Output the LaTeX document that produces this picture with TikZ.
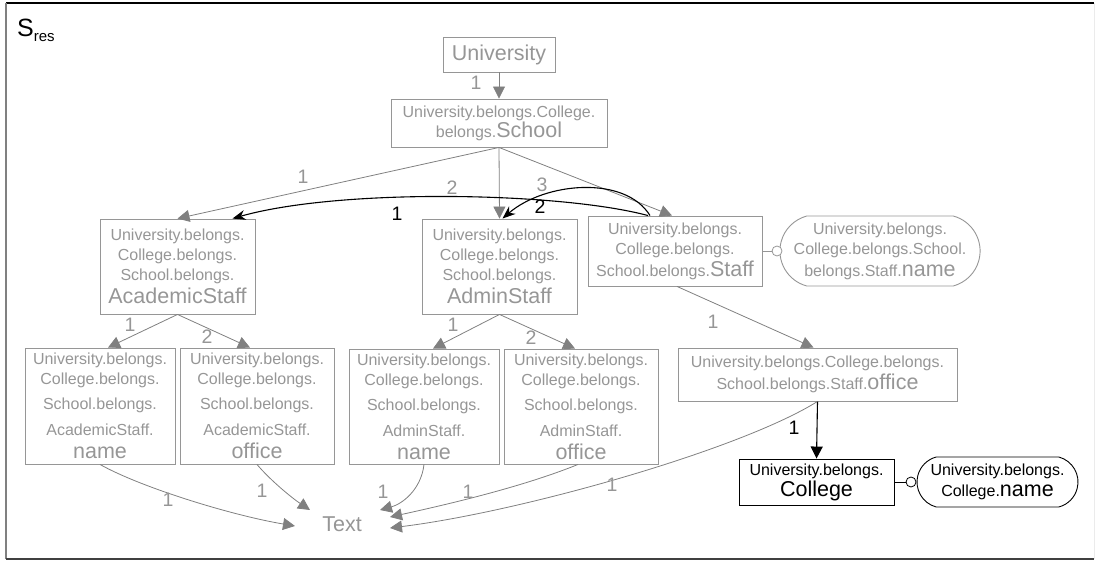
\documentclass[tikz,border=0pt]{standalone}
\usepackage{fontspec}
\setmainfont{Liberation Sans}
\usetikzlibrary{arrows.meta,calc,shapes.misc}
\definecolor{boxgray}{RGB}{150,150,150}
\definecolor{txtgray}{RGB}{150,150,150}
\definecolor{edgegray}{RGB}{128,128,128}
\newcommand\smallf{\fontsize{16}{20}\selectfont}
\newcommand\bigf{\fontsize{21.5}{24}\selectfont}
\newcommand\labf{\fontsize{19.5}{22}\selectfont}
\begin{document}
\begin{tikzpicture}[x=1pt,y=-1pt,
  entity/.style={draw=boxgray,line width=0.9pt,text=txtgray,align=center,inner sep=0pt,font=\smallf},
  entityk/.style={draw=black,line width=0.9pt,text=black,align=center,inner sep=0pt,font=\smallf},
  attr/.style={rounded rectangle,rounded rectangle arc length=150,draw=boxgray,line width=0.9pt,text=txtgray,align=center,inner sep=0pt,font=\smallf},
  attrk/.style={rounded rectangle,rounded rectangle arc length=150,draw=black,line width=0.9pt,text=black,align=center,inner sep=0pt,font=\smallf},
  knob/.style={circle,draw,fill=white,line width=0.8pt,minimum size=10pt,inner sep=0pt},
  rel/.style={draw=edgegray,line width=0.8pt,-{Triangle[length=12pt,width=12pt]}},
  relk/.style={draw=black,line width=1.1pt,-{Stealth[length=13pt,width=10pt]}},
  relkt/.style={draw=black,line width=1.1pt,-{Triangle[length=12pt,width=12pt]}},
  lab/.style={text=txtgray,font=\labf,inner sep=0pt},
  labk/.style={text=black,font=\labf,inner sep=0pt}]
\useasboundingbox (0,0) rectangle (1095,561);

% frame
\draw[line width=1.5pt,black] (6,3) -- (1094,3);
\draw[line width=1.5pt,gray] (6,3) -- (6,559);
\draw[line width=1.5pt,black!75] (6,559) -- (1094,559);
\draw[line width=1pt,black!8] (1094,3) -- (1094,559);
\node[anchor=base west,inner sep=0pt] (title) at (17,37)
  {{\fontsize{25}{30}\selectfont S}\raisebox{-5pt}{\fontsize{15}{18}\selectfont res}};

% entities
\node[entity,minimum width=112pt,minimum height=35pt,font=\bigf] (univ) at (499,54.5) {University};
\node[entity,minimum width=216pt,minimum height=48pt] (school) at (499,123)
  {University.belongs.College.\\belongs.{\bigf School}};
\node[entity,minimum width=155pt,minimum height=95pt] (acad) at (177.5,266.5)
  {University.belongs.\\College.belongs.\\School.belongs.\\[3pt]{\bigf AcademicStaff}};
\node[entity,minimum width=155pt,minimum height=95pt] (admin) at (499.5,266.5)
  {University.belongs.\\College.belongs.\\School.belongs.\\[3pt]{\bigf AdminStaff}};
\node[entity,minimum width=174pt,minimum height=70pt] (staff) at (675,251)
  {University.belongs.\\College.belongs.\\[2pt]School.belongs.{\bigf Staff}};
\node[attr,minimum width=194pt,minimum height=70pt] (staffname) at (880,251)
  {University.belongs.\\College.belongs.School.\\[2pt]belongs.Staff.{\bigf name}};
\node[knob,draw=boxgray] (k1) at (777,251) {};

\node[entity,minimum width=150pt,minimum height=116pt] (acname) at (100,406)
  {University.belongs.\\College.belongs.\\[5pt]School.belongs.\\[6pt]AcademicStaff.\\[3pt]{\bigf name}};
\node[entity,minimum width=154pt,minimum height=116pt] (acoffice) at (257,406)
  {University.belongs.\\College.belongs.\\[5pt]School.belongs.\\[6pt]AcademicStaff.\\[3pt]{\bigf office}};
\node[entity,minimum width=150pt,minimum height=115pt] (adname) at (424,406.5)
  {University.belongs.\\College.belongs.\\[5pt]School.belongs.\\[6pt]AdminStaff.\\[3pt]{\bigf name}};
\node[entity,minimum width=154pt,minimum height=115pt] (adoffice) at (581,406.5)
  {University.belongs.\\College.belongs.\\[5pt]School.belongs.\\[6pt]AdminStaff.\\[3pt]{\bigf office}};

\node[entity,minimum width=279pt,minimum height=53pt] (staffoffice) at (817.5,374.5)
  {University.belongs.College.belongs.\\[2pt]School.belongs.Staff.{\bigf office}};
\node[entityk,minimum width=155pt,minimum height=46pt] (college) at (816.5,482)
  {University.belongs.\\[1pt]{\bigf College}};
\node[attrk,minimum width=161pt,minimum height=50pt] (collegename) at (997.5,482)
  {University.belongs.\\[1pt]College.{\bigf name}};
\node[knob,draw=black] (k2) at (911,482) {};

\node[text=txtgray,font=\bigf,inner sep=0pt] (text) at (342,524) {Text};

% attribute links
\draw[boxgray,line width=0.8pt] (staff.east) -- (k1.west);
\draw[black,line width=0.8pt] (college.east) -- (k2.west);

% hierarchy edges
\draw[rel] (univ.south) -- (school.north);
\draw[rel] (school.south) -- (acad.north);
\draw[rel] (school.south) -- (admin.north);
\draw[rel] (school.south) -- ([xshift=-3pt]staff.north);
\draw[rel] (acad.south) -- ([xshift=8pt]acname.north);
\draw[rel] (acad.south) -- ([xshift=-7pt]acoffice.north);
\draw[rel] (admin.south) -- ([xshift=9pt]adname.north);
\draw[rel] (admin.south) -- ([xshift=-6pt]adoffice.north);
\draw[rel] ([xshift=2pt]staff.south) -- ([xshift=-4pt]staffoffice.north);
\draw[relkt] (staffoffice.south) -- (college.north);

% references from Staff
\draw[relk] ([xshift=-27pt]staff.north) .. controls (560,192) and (340,188) .. ([xshift=55pt]acad.north);
\draw[relk] ([xshift=-25pt]staff.north) .. controls (625,175) and (545,182) .. ([xshift=3pt]admin.north);

% value edges to Text
\draw[rel] (acname.south) .. controls (140,487) and (230,515) .. ($(text)+(-47,2)$);
\draw[rel] (acoffice.south) .. controls (270,480) and (292,498) .. ($(text)+(-32,-14)$);
\draw[rel] (adname.south) .. controls (421,490) and (402,504) .. ($(text)+(38,-14)$);
\draw[rel] ([xshift=-3pt]adoffice.south) .. controls (520,488) and (440,506) .. ($(text)+(48,-7)$);
\draw[rel] (staffoffice.south) .. controls (740,450) and (520,512) .. ($(text)+(48,4)$);

% edge labels
\node[lab] (l0) at (476,83) {1};
\node[lab] (l1) at (303,177) {1};
\node[lab] (l2) at (452,188) {2};
\node[lab] (l3) at (542,185) {3};
\node[labk] (lk1) at (397,214) {1};
\node[labk] (lk2) at (540,207) {2};
\node[lab] (l4) at (130,325) {1};
\node[lab] (l5) at (207,337) {2};
\node[lab] (l6) at (453,325) {1};
\node[lab] (l7) at (531,338) {2};
\node[lab] (l8) at (713,322) {1};
\node[labk] (lk3) at (794,428) {1};
\node[lab] (l9) at (168,500) {1};
\node[lab] (l10) at (262,491) {1};
\node[lab] (l11) at (383,492) {1};
\node[lab] (l12) at (468,492) {1};
\node[lab] (l13) at (612,485) {1};
\end{tikzpicture}
\end{document}
